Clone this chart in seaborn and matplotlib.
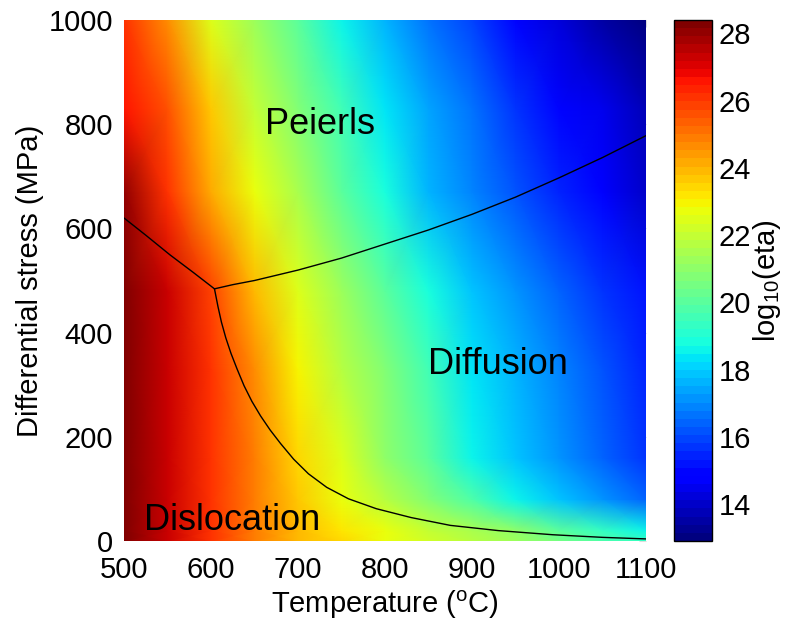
import numpy as np
import matplotlib
matplotlib.use("Agg")
import matplotlib.pyplot as plt
import seaborn as sns

# Temperature nodes (deg C) and differential-stress nodes (MPa) of the viscosity map
temperature = [500, 550, 600, 650, 700, 750, 800, 850, 900, 950, 1000, 1050, 1100]
stress = [0, 20, 80, 160, 330, 480, 670, 830, 1000]

# log10 of effective viscosity along each stress level (one value per temperature node)
eta_0 = [28.37, 27.35, 26.15, 24.85, 24.00, 23.35, 22.80, 22.30, 21.80, 21.30, 20.60, 19.90, 19.20]
eta_20 = [28.37, 27.35, 26.15, 24.85, 23.90, 23.20, 22.60, 22.00, 21.50, 20.90, 20.00, 19.25, 18.70]
eta_80 = [28.37, 27.35, 26.15, 24.85, 23.60, 22.80, 21.75, 20.75, 19.70, 18.70, 17.90, 17.20, 16.40]
eta_160 = [28.37, 27.35, 26.20, 24.85, 23.55, 22.45, 21.10, 19.95, 18.60, 17.90, 17.25, 16.50, 15.75]
eta_330 = [28.37, 27.30, 26.10, 24.65, 23.05, 21.70, 20.70, 19.50, 18.40, 17.60, 16.85, 16.15, 15.35]
eta_480 = [28.37, 27.40, 25.80, 23.80, 22.35, 21.15, 19.95, 18.85, 17.95, 17.20, 16.50, 15.80, 15.10]
eta_670 = [28.00, 26.00, 24.15, 22.75, 21.45, 20.15, 18.90, 17.70, 16.90, 16.25, 15.50, 14.80, 14.10]
eta_830 = [26.70, 25.60, 23.70, 22.00, 20.70, 19.60, 18.40, 17.40, 16.60, 15.80, 15.05, 14.40, 13.80]
eta_1000 = [26.10, 24.70, 22.45, 21.25, 20.05, 18.60, 17.55, 16.60, 15.85, 15.05, 14.35, 13.60, 12.95]

# Mechanism boundaries
disl_peierls_T = [500, 525, 553, 580, 604]
disl_peierls_S = [620, 587, 549, 515, 484]
peierls_diff_T = [604, 625, 650, 700, 750, 800, 850, 900, 950, 1000, 1050, 1100]
peierls_diff_S = [484, 492, 500, 520, 543, 570, 597, 627, 660, 697, 736, 778]
disl_diff_T = [604, 608, 612, 617, 623, 630, 638, 647, 657, 668, 680, 695, 712,
               733, 758, 790, 830, 875, 930, 993, 1050, 1100]
disl_diff_S = [484, 450, 420, 390, 360, 330, 298, 268, 240, 213, 187, 157, 129,
               103, 81, 62, 45, 30, 20, 12, 7, 4]

regions = ["Peierls", "Diffusion", "Dislocation"]
region_T = [725, 930, 624]
region_S = [800, 338, 40]

sns.set_theme(style="white")
plt.rcParams["font.family"] = ["Liberation Sans", "DejaVu Sans"]
plt.rcParams["mathtext.fontset"] = "custom"
plt.rcParams["mathtext.rm"] = "Liberation Sans"
plt.rcParams["mathtext.it"] = "Liberation Sans:italic"
plt.rcParams["text.color"] = "black"
plt.rcParams["axes.labelcolor"] = "black"
plt.rcParams["xtick.labelcolor"] = "black"
plt.rcParams["ytick.labelcolor"] = "black"

fig = plt.figure(figsize=(7.9, 6.23), dpi=100)
W, H = 790, 623
ax = fig.add_axes([124 / W, 1 - 541 / H, 522 / W, 521 / H])
cax = fig.add_axes([674 / W, 1 - 541 / H, 38 / W, 521 / H])

field = np.array([eta_0, eta_20, eta_80, eta_160, eta_330, eta_480,
                  eta_670, eta_830, eta_1000])
cmap = plt.get_cmap("jet", 64)
mesh = ax.pcolormesh(temperature, stress, field, cmap=cmap, vmin=12.9, vmax=28.4,
                     shading="gouraud", rasterized=True)

for tx, sy in [(disl_peierls_T, disl_peierls_S),
               (peierls_diff_T, peierls_diff_S),
               (disl_diff_T, disl_diff_S)]:
    sns.lineplot(x=tx, y=sy, sort=False, estimator=None, color="black",
                 linewidth=1.0, ax=ax)

for name, tx, sy in zip(regions, region_T, region_S):
    ax.text(tx, sy, name, fontsize=26, ha="center", va="center", color="black")

ax.set_xlim(500, 1100)
ax.set_ylim(0, 1000)
ax.set_xticks(range(500, 1101, 100))
ax.set_yticks(range(0, 1001, 200))
for s in ax.spines.values():
    s.set_visible(False)
ax.tick_params(axis="both", direction="in", length=5, width=0.8, color="#dddddd",
               top=True, right=True, labelsize=21, labelcolor="black")
ax.tick_params(axis="x", pad=11)
ax.tick_params(axis="y", pad=8)
ax.set_xlabel("Temperature ($^{\\rm o}$C)", fontsize=21, labelpad=3)
ax.set_ylabel("Differential stress (MPa)", fontsize=21, labelpad=3)

cb = fig.colorbar(mesh, cax=cax)
cb.set_ticks(range(14, 29, 2))
cb.outline.set_edgecolor("black")
cb.outline.set_linewidth(1.0)
cax.tick_params(direction="in", length=5, width=0.8, color="black",
                left=True, right=True, labelsize=21, pad=5, labelcolor="black")
cb.set_label("log$_{10}$(eta)", fontsize=21, labelpad=0)

fig.savefig("out.png", dpi=100)
